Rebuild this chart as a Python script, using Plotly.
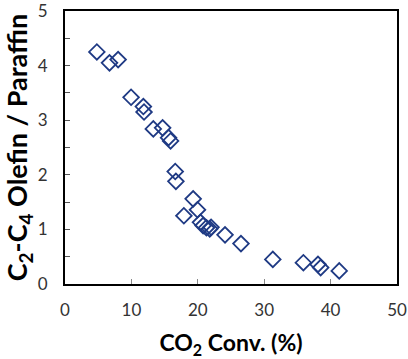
import plotly.graph_objects as go

co2_conv = [4.8, 6.7, 8.0, 9.95, 11.8, 11.9, 13.3, 14.7, 15.6, 15.9,
            16.6, 16.7, 19.3, 19.95, 17.9, 20.4, 20.8, 21.3, 21.8, 22.0,
            24.1, 26.5, 31.3, 35.9, 38.1, 38.5, 41.3]
olefin_paraffin = [4.25, 4.05, 4.11, 3.42, 3.25, 3.15, 2.84, 2.86, 2.68, 2.62,
                   2.06, 1.88, 1.56, 1.36, 1.25, 1.13, 1.07, 1.03, 1.01, 1.04,
                   0.90, 0.74, 0.45, 0.39, 0.36, 0.30, 0.24]
x_ticks = [0, 10, 20, 30, 40, 50]
y_ticks = [0, 1, 2, 3, 4, 5]

navy = "#1F3A84"
font_family = "Lato, 'Liberation Sans', sans-serif"
tick_color = "#333333"

fig = go.Figure()
fig.add_trace(go.Scatter(
    x=co2_conv, y=olefin_paraffin, mode="markers",
    marker=dict(symbol="diamond-open", size=12, color=navy,
                line=dict(width=1.8, color=navy)),
    showlegend=False,
))

fig.update_layout(
    width=408, height=359,
    margin=dict(l=65, r=11, t=11, b=75),
    paper_bgcolor="white", plot_bgcolor="white",
    font=dict(family=font_family, size=17, color=tick_color),
)
fig.update_xaxes(
    range=[0, 50], tickvals=x_ticks, ticktext=[str(v) for v in x_ticks],
    ticks="inside", ticklen=5, tickwidth=1, tickcolor="#888888",
    ticklabelstandoff=10, ticklabeloverflow="allow",
    showgrid=False, zeroline=False, automargin=False,
    showline=True, linecolor="black", linewidth=2, mirror=True,
    tickfont=dict(size=17, color=tick_color),
    title=dict(text="<b>CO<sub>2</sub> Conv. (%)</b>", font=dict(size=23, color="black"), standoff=22),
)
fig.update_yaxes(
    range=[0, 5], tickvals=y_ticks, ticktext=[str(v) for v in y_ticks],
    ticks="inside", ticklen=5, tickwidth=1, tickcolor="#555555",
    ticklabelstandoff=12, ticklabeloverflow="allow",
    minor=dict(dtick=0.5, ticks="inside", ticklen=5, tickcolor="#555555", tickwidth=1),
    showgrid=False, zeroline=False, automargin=False,
    showline=True, linecolor="black", linewidth=2, mirror=True,
    tickfont=dict(size=17, color=tick_color),
    title=dict(text="<b>C<sub>2</sub>-C<sub>4</sub> Olefin / Paraffin</b>", font=dict(size=27, color="black"), standoff=10),
)

fig.write_html("out.html", config={"displayModeBar": False},
               post_script="document.body.style.margin='0';")
